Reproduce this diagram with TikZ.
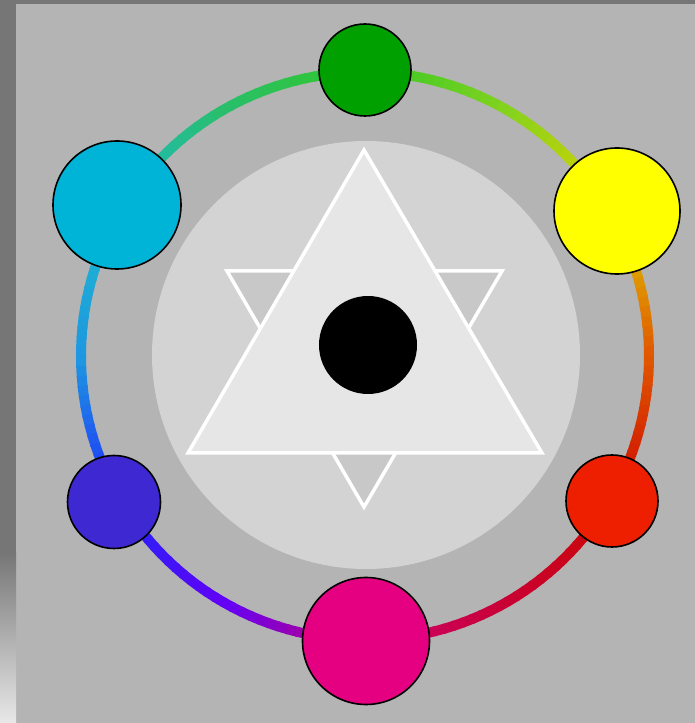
\documentclass[tikz,border=0pt]{standalone}
\usetikzlibrary{calc}
\begin{document}
\definecolor{panel}{RGB}{180,180,180}
\definecolor{strip}{RGB}{118,118,118}
\definecolor{striplight}{RGB}{232,232,232}
\definecolor{disc}{RGB}{211,211,211}
\definecolor{trup}{RGB}{230,230,230}
\definecolor{trdn}{RGB}{200,200,200}
\definecolor{cgreen}{RGB}{0,160,0}
\definecolor{cyellow}{RGB}{255,255,0}
\definecolor{cred}{RGB}{238,30,0}
\definecolor{cmagenta}{RGB}{228,0,128}
\definecolor{cblue}{RGB}{62,40,210}
\definecolor{ccyan}{RGB}{0,180,215}
% ring knots
\definecolor{k-90}{RGB}{205,0,110}
\definecolor{k-60}{RGB}{200,0,50}
\definecolor{k-30}{RGB}{205,10,0}
\definecolor{k0}{RGB}{225,90,0}
\definecolor{k30}{RGB}{220,210,0}
\definecolor{k60}{RGB}{130,210,30}
\definecolor{k90}{RGB}{50,200,40}
\definecolor{k120}{RGB}{40,190,110}
\definecolor{k150}{RGB}{30,185,205}
\definecolor{k180}{RGB}{30,150,225}
\definecolor{k210}{RGB}{30,40,250}
\definecolor{k240}{RGB}{100,0,245}
\definecolor{k270}{RGB}{205,0,110}
\begin{tikzpicture}[x=1pt,y=1pt,
  dot/.style={circle,draw=black,line width=1.6pt,inner sep=0pt},
  tri/.style={draw=white,line width=3.5pt,line join=miter}]
\useasboundingbox (0,0) rectangle (695,723);
% background
\fill[panel] (0,0) rectangle (695,723);
\fill[strip] (0,170) rectangle (16,723);
\shade[top color=strip,bottom color=striplight] (0,0) rectangle (16,170.5);
\fill[strip] (0,719) rectangle (695,723);
% ring
\coordinate (C) at (365,367);
\foreach \a/\ca/\cb in {-90/k-90/k-60,-60/k-60/k-30,-30/k-30/k0,0/k0/k30,30/k30/k60,60/k60/k90,90/k90/k120,120/k120/k150,150/k150/k180,180/k180/k210,210/k210/k240,240/k240/k270}{
  \foreach \t in {0,2,...,28}{
    \pgfmathtruncatemacro\p{100-\t*10/3}
    \pgfmathsetmacro\ang{\a+\t}
    \draw[line width=10pt,color=\ca!\p!\cb] ($(C)+(\ang:284)$) arc[start angle=\ang,end angle=\ang+2.4,radius=284];
  }
}
% inner disc and star
\node[circle,fill=disc,minimum size=428pt,inner sep=0pt] (D) at (366,368) {};
\coordinate (d1) at (227,452);
\coordinate (d2) at (502,452);
\coordinate (d3) at (364,216);
\filldraw[tri,fill=trdn] (d1) -- (d2) -- (d3) -- cycle;
\coordinate (u1) at (364,573);
\coordinate (u2) at (188,270);
\coordinate (u3) at (542,270);
\filldraw[tri,fill=trup] (u1) -- (u2) -- (u3) -- cycle;
\node[circle,fill=black,minimum size=98pt,inner sep=0pt] (B) at (368,378) {};
% colour dots
\node[dot,fill=cgreen,minimum size=92pt] (G) at (365,653) {};
\node[dot,fill=cyellow,minimum size=126pt] (Y) at (617,512) {};
\node[dot,fill=cred,minimum size=92pt] (R) at (612,222) {};
\node[dot,fill=cmagenta,minimum size=127pt] (M) at (366,82) {};
\node[dot,fill=cblue,minimum size=93pt] (Bl) at (114,221) {};
\node[dot,fill=ccyan,minimum size=128pt] (Cy) at (117,518) {};
\end{tikzpicture}
\end{document}
